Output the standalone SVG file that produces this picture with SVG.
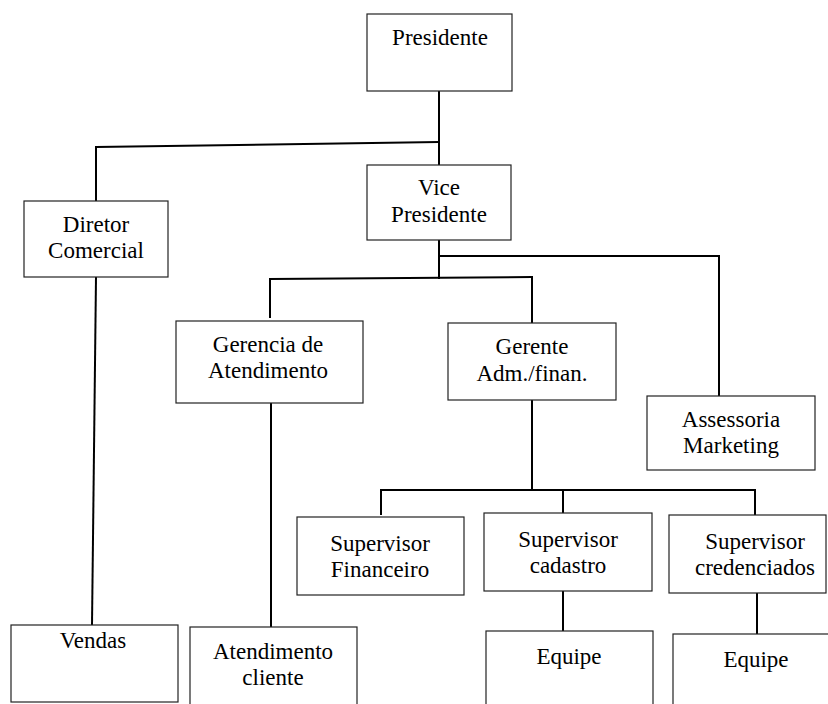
<svg xmlns="http://www.w3.org/2000/svg" width="828" height="704" viewBox="0 0 828 704">
<style>
.box{fill:#fff;stroke:#222;stroke-width:1.2}
.t{font-family:'Liberation Serif','Times New Roman',Times,'DejaVu Serif',serif;font-size:23px;fill:#000;text-anchor:middle}
.c{stroke:#000;stroke-width:2;fill:none}
</style>
<rect width="828" height="704" fill="#fff"/>
<g id="connectors">
<line class="c" x1="439" y1="91" x2="439" y2="165"/>
<line class="c" x1="96" y1="147" x2="439" y2="142"/>
<line class="c" x1="96" y1="146" x2="96" y2="201"/>
<line class="c" x1="96" y1="277" x2="92" y2="625"/>
<line class="c" x1="439" y1="240" x2="439" y2="279"/>
<line class="c" x1="439" y1="256" x2="719" y2="256"/>
<line class="c" x1="719" y1="255" x2="719" y2="396"/>
<line class="c" x1="270" y1="279" x2="532" y2="277"/>
<line class="c" x1="270" y1="278" x2="270" y2="318"/>
<line class="c" x1="532" y1="276" x2="532" y2="323"/>
<line class="c" x1="271" y1="403" x2="271" y2="627"/>
<line class="c" x1="532" y1="400" x2="532" y2="490"/>
<line class="c" x1="380" y1="490" x2="755" y2="490"/>
<line class="c" x1="381" y1="489" x2="381" y2="515"/>
<line class="c" x1="563" y1="489" x2="563" y2="513"/>
<line class="c" x1="755" y1="489" x2="755" y2="515"/>
<line class="c" x1="563" y1="591" x2="563" y2="631"/>
<line class="c" x1="757" y1="593" x2="757" y2="634"/>
</g>
<g id="presidente">
<rect class="box" x="367" y="14" width="145" height="77"/>
<text class="t" x="440" y="45" font-family="Liberation Serif, serif">Presidente</text>
</g>
<g id="vice-presidente">
<rect class="box" x="367" y="165" width="144" height="75"/>
<text class="t" x="439" y="195">Vice</text>
<text class="t" x="439" y="222">Presidente</text>
</g>
<g id="diretor-comercial">
<rect class="box" x="24" y="201" width="144" height="76"/>
<text class="t" x="96" y="232">Diretor</text>
<text class="t" x="96" y="258">Comercial</text>
</g>
<g id="gerencia-atendimento">
<rect class="box" x="176" y="321" width="187" height="82"/>
<text class="t" x="268" y="352">Gerencia de</text>
<text class="t" x="268" y="378">Atendimento</text>
</g>
<g id="gerente-adm">
<rect class="box" x="448" y="323" width="168" height="77"/>
<text class="t" x="532" y="354">Gerente</text>
<text class="t" x="532" y="381">Adm./finan.</text>
</g>
<g id="assessoria-marketing">
<rect class="box" x="647" y="396" width="168" height="74"/>
<text class="t" x="731" y="427">Assessoria</text>
<text class="t" x="731" y="453">Marketing</text>
</g>
<g id="supervisor-financeiro">
<rect class="box" x="297" y="517" width="167" height="78"/>
<text class="t" x="380" y="551">Supervisor</text>
<text class="t" x="380" y="577">Financeiro</text>
</g>
<g id="supervisor-cadastro">
<rect class="box" x="484" y="513" width="168" height="78"/>
<text class="t" x="568" y="547">Supervisor</text>
<text class="t" x="568" y="573">cadastro</text>
</g>
<g id="supervisor-credenciados">
<rect class="box" x="669" y="515" width="157" height="78"/>
<text class="t" x="755" y="549">Supervisor</text>
<text class="t" x="755" y="575">credenciados</text>
</g>
<g id="vendas">
<rect class="box" x="11" y="625" width="167" height="77"/>
<text class="t" x="93" y="648">Vendas</text>
</g>
<g id="atendimento-cliente">
<rect class="box" x="190" y="627" width="167" height="90"/>
<text class="t" x="273" y="659">Atendimento</text>
<text class="t" x="273" y="685">cliente</text>
</g>
<g id="equipe-cadastro">
<rect class="box" x="486" y="631" width="167" height="90"/>
<text class="t" x="569" y="664">Equipe</text>
</g>
<g id="equipe-credenciados">
<rect class="box" x="673" y="634" width="170" height="90"/>
<text class="t" x="756" y="667">Equipe</text>
</g>
</svg>
